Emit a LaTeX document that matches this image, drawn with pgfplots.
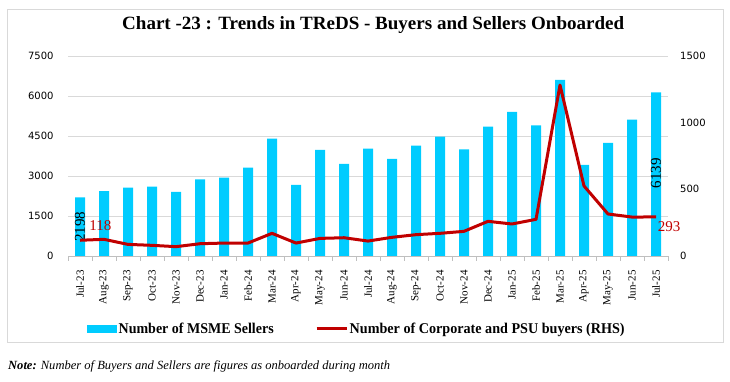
\documentclass[border=0pt]{standalone}
\usepackage{pgfplots}
\pgfplotsset{compat=1.18}
\usepackage{fontspec}
\setmainfont{Liberation Serif}
\newfontfamily\dvs{DejaVu Sans}
\definecolor{barblue}{RGB}{0,204,255}
\definecolor{linered}{RGB}{192,0,0}
\definecolor{gridgray}{RGB}{217,217,217}
\definecolor{axgray}{RGB}{191,191,191}
\begin{document}
\begin{tikzpicture}
\path[use as bounding box] (0pt,0pt) rectangle (730pt,382pt);
\draw[gridgray, line width=0.8pt] (7pt,40pt) rectangle (723pt,373pt);
\node[anchor=base west, inner sep=0pt] at (122pt,352pt) {\resizebox{502pt}{13pt}{\bfseries Chart -23 : Trends in TReDS - Buyers and Sellers Onboarded}};
\node[anchor=base west, inner sep=0pt] at (8pt,12pt) {\resizebox{382pt}{8.8pt}{\itshape\textbf{Note:} Number of Buyers and Sellers are figures as onboarded during month}};
\begin{axis}[
  at={(68pt,126pt)}, anchor=south west, scale only axis,
  width=600pt, height=200pt,
  xmin=-0.5, xmax=24.5, ymin=0, ymax=7500,
  ytick={0,1500,3000,4500,6000,7500},
  yticklabels={0,1500,3000,4500,6000,7500},
  xtick={0,...,24},
  xticklabels={Jul-23,Aug-23,Sep-23,Oct-23,Nov-23,Dec-23,Jan-24,Feb-24,Mar-24,Apr-24,May-24,Jun-24,Jul-24,Aug-24,Sep-24,Oct-24,Nov-24,Dec-24,Jan-25,Feb-25,Mar-25,Apr-25,May-25,Jun-25,Jul-25},
  xticklabel style={rotate=90, anchor=east, font=\fontsize{11}{12}\selectfont, inner sep=0pt},
  xticklabel shift=10pt,
  minor xtick={-0.5,0.5,...,24.5},
  major x tick style={draw=none},
  minor x tick style={axgray},
  minor tick length=5pt, tick align=outside,
  y tick style={draw=none},
  ymajorgrids, grid style={gridgray},
  axis x line*=bottom, axis y line*=left,
  y axis line style={draw=none}, x axis line style={axgray},
  yticklabel style={font=\dvs\fontsize{10}{11}\selectfont, inner sep=0pt},
  yticklabel shift=10pt,
  clip=false,
  legend style={at={(0.0317,-0.365)}, anchor=west, draw=none, fill=none, legend columns=2, inner sep=0pt,
    nodes={inner sep=1.5pt},
    /tikz/every even column/.append style={column sep=40pt}},
  legend cell align=left,
]
\addplot[ybar, bar width=10pt, fill=barblue, draw=none,
  legend image code/.code={\fill[barblue] (0pt,-4pt) rectangle (30pt,4pt);}]
coordinates {
(0,2198) (1,2430) (2,2565) (3,2600) (4,2400) (5,2875) (6,2940) (7,3315) (8,4400) (9,2665)
(10,3975) (11,3450) (12,4025) (13,3640) (14,4140) (15,4475) (16,4000) (17,4850) (18,5400)
(19,4900) (20,6600) (21,3415) (22,4240) (23,5115) (24,6139)};
\addlegendentry{\resizebox{155pt}{10.5pt}{\bfseries Number of MSME Sellers}}
\addlegendimage{legend image code/.code={\draw[linered, line width=3pt] (0pt,0pt) -- (30pt,0pt);}}
\addlegendentry{\resizebox{275pt}{10.5pt}{\bfseries Number of Corporate and PSU buyers (RHS)}}
\node[rotate=90, font=\fontsize{15}{15}\selectfont, inner sep=0pt] at (axis cs:0,1090) {2198};
\node[rotate=90, font=\fontsize{15}{15}\selectfont, inner sep=0pt] at (axis cs:24,3110) {6139};
\node[font=\fontsize{15}{15}\selectfont, text=linered, inner sep=0pt] at (axis cs:0.85,1125) {118};
\node[font=\fontsize{15}{15}\selectfont, text=linered, inner sep=0pt] at (axis cs:24.55,1087) {293};
\end{axis}
\begin{axis}[
  at={(68pt,126pt)}, anchor=south west, scale only axis,
  width=600pt, height=200pt,
  xmin=-0.5, xmax=24.5, ymin=0, ymax=1500,
  ytick={0,500,1000,1500},
  yticklabels={0,500,1000,1500},
  axis x line=none, axis y line*=right,
  y axis line style={draw=none}, y tick style={draw=none},
  yticklabel style={font=\dvs\fontsize{10}{11}\selectfont, inner sep=0pt},
  yticklabel shift=12pt,
]
\addplot[linered, line width=3pt, line join=round, mark=none] coordinates {
(0,118) (1,125) (2,87) (3,80) (4,70) (5,92) (6,97) (7,97) (8,170) (9,97)
(10,132) (11,137) (12,112) (13,140) (14,160) (15,170) (16,185) (17,260) (18,240)
(19,275) (20,1282) (21,525) (22,315) (23,292) (24,293)};
\end{axis}
\end{tikzpicture}
\end{document}
